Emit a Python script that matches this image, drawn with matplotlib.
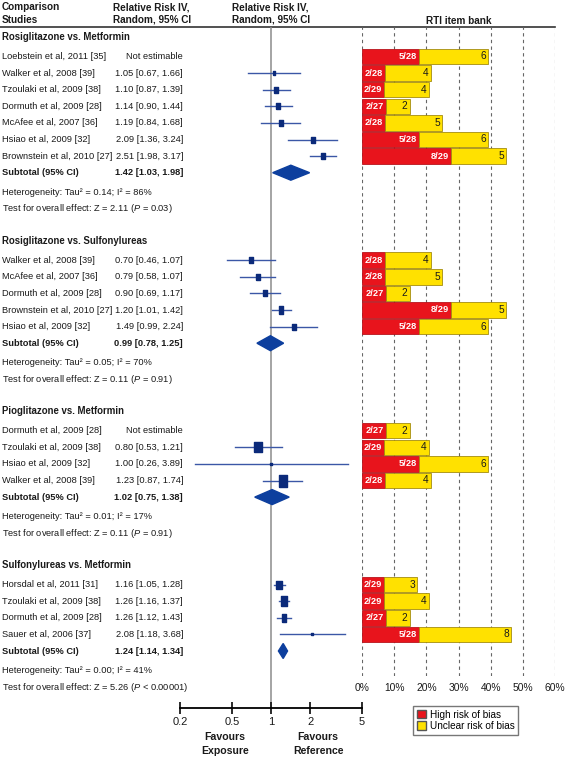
import matplotlib.pyplot as plt
import numpy as np
from matplotlib.patches import Polygon, Patch
from matplotlib.path import Path

plt.rcParams['font.family'] = ['Liberation Sans', 'DejaVu Sans']
plt.rcParams['mathtext.fontset'] = 'custom'
plt.rcParams['mathtext.rm'] = 'Liberation Sans'
plt.rcParams['mathtext.it'] = 'Liberation Sans:italic'

# ---- data ----
sec_titles = ['Rosiglitazone vs. Metformin', 'Rosiglitazone vs. Sulfonylureas',
              'Pioglitazone vs. Metformin', 'Sulfonylureas vs. Metformin']

s1_studies = ['Loebstein et al, 2011 [35]', 'Walker et al, 2008 [39]', 'Tzoulaki et al, 2009 [38]',
              'Dormuth et al, 2009 [28]', 'McAfee et al, 2007 [36]', 'Hsiao et al, 2009 [32]',
              'Brownstein et al, 2010 [27]']
s1_rr = [np.nan, 1.05, 1.10, 1.14, 1.19, 2.09, 2.51]
s1_lo = [np.nan, 0.67, 0.87, 0.90, 0.84, 1.36, 1.98]
s1_hi = [np.nan, 1.66, 1.39, 1.44, 1.68, 3.24, 3.17]
s1_weight = [0, 8, 13, 13, 11, 10, 13]
s1_high = [5, 2, 2, 2, 2, 5, 8]
s1_items = [28, 28, 29, 27, 28, 28, 29]
s1_unclear = [6, 4, 4, 2, 5, 6, 5]
s1_total = [1.42, 1.03, 1.98]
s1_tau, s1_i2, s1_z, s1_p = '0.14', '86%', '2.11', '= 0.03'

s2_studies = ['Walker et al, 2008 [39]', 'McAfee et al, 2007 [36]', 'Dormuth et al, 2009 [28]',
              'Brownstein et al, 2010 [27]', 'Hsiao et al, 2009 [32]']
s2_rr = [0.70, 0.79, 0.90, 1.20, 1.49]
s2_lo = [0.46, 0.58, 0.69, 1.01, 0.99]
s2_hi = [1.07, 1.07, 1.17, 1.42, 2.24]
s2_weight = [11, 17, 17, 23, 10]
s2_high = [2, 2, 2, 8, 5]
s2_items = [28, 28, 27, 29, 28]
s2_unclear = [4, 5, 2, 5, 6]
s2_total = [0.99, 0.78, 1.25]
s2_tau, s2_i2, s2_z, s2_p = '0.05', '70%', '0.11', '= 0.91'

s3_studies = ['Dormuth et al, 2009 [28]', 'Tzoulaki et al, 2009 [38]', 'Hsiao et al, 2009 [32]',
              'Walker et al, 2008 [39]']
s3_rr = [np.nan, 0.80, 1.00, 1.23]
s3_lo = [np.nan, 0.53, 0.26, 0.87]
s3_hi = [np.nan, 1.21, 3.89, 1.74]
s3_weight = [0, 47, 2, 56]
s3_high = [2, 2, 5, 2]
s3_items = [27, 29, 28, 28]
s3_unclear = [2, 4, 6, 4]
s3_total = [1.02, 0.75, 1.38]
s3_tau, s3_i2, s3_z, s3_p = '0.01', '17%', '0.11', '= 0.91'

s4_studies = ['Horsdal et al, 2011 [31]', 'Tzoulaki et al, 2009 [38]', 'Dormuth et al, 2009 [28]',
              'Sauer et al, 2006 [37]']
s4_rr = [1.16, 1.26, 1.26, 2.08]
s4_lo = [1.05, 1.16, 1.12, 1.18]
s4_hi = [1.28, 1.37, 1.43, 3.68]
s4_weight = [27, 32, 21, 2]
s4_high = [2, 2, 2, 5]
s4_items = [29, 29, 27, 28]
s4_unclear = [3, 4, 2, 8]
s4_total = [1.24, 1.14, 1.34]
s4_tau, s4_i2, s4_z, s4_p = '0.00', '41%', '5.26', '< 0.00001'

sections = [
    dict(studies=s1_studies, rr=s1_rr, lo=s1_lo, hi=s1_hi, w=s1_weight, high=s1_high,
         items=s1_items, unclear=s1_unclear, total=s1_total, tau=s1_tau, i2=s1_i2, z=s1_z, p=s1_p),
    dict(studies=s2_studies, rr=s2_rr, lo=s2_lo, hi=s2_hi, w=s2_weight, high=s2_high,
         items=s2_items, unclear=s2_unclear, total=s2_total, tau=s2_tau, i2=s2_i2, z=s2_z, p=s2_p),
    dict(studies=s3_studies, rr=s3_rr, lo=s3_lo, hi=s3_hi, w=s3_weight, high=s3_high,
         items=s3_items, unclear=s3_unclear, total=s3_total, tau=s3_tau, i2=s3_i2, z=s3_z, p=s3_p),
    dict(studies=s4_studies, rr=s4_rr, lo=s4_lo, hi=s4_hi, w=s4_weight, high=s4_high,
         items=s4_items, unclear=s4_unclear, total=s4_total, tau=s4_tau, i2=s4_i2, z=s4_z, p=s4_p),
]

rr_ticks = [0.2, 0.5, 1, 2, 5]
pct_ticks = [0, 10, 20, 30, 40, 50, 60]

# ---- layout (pixels) ----
W, H = 567, 758
fig = plt.figure(figsize=(W / 100, H / 100), dpi=100)

def box(x0, y0, x1, y1):
    return [x0 / W, 1 - y1 / H, (x1 - x0) / W, (y1 - y0) / H]

ax_t = fig.add_axes([0, 0, 1, 1])
ax_t.set_xlim(0, W)
ax_t.set_ylim(H, 0)
ax_t.axis('off')

ax_f = fig.add_axes(box(180, 27, 362, 708))
ax_f.patch.set_alpha(0)
ax_f.set_xscale('log')
ax_f.set_xlim(0.2, 5)
ax_f.set_ylim(708, 27)

ax_b = fig.add_axes(box(362, 27, 555, 676))
ax_b.patch.set_alpha(0)
ax_b.set_xlim(0, 60)
ax_b.set_ylim(676, 27)

TXT = '#1a1a1a'
SQ = '#0b2a7a'
CI = '#3b57a6'
DIA = '#0d3f9e'
RED = '#e8141c'
YEL = '#ffe100'
fs = 6.7
hfs = 7.2

# header
ax_t.text(2, 7, 'Comparison', fontsize=hfs, fontweight='bold', va='center', color=TXT)
ax_t.text(2, 20, 'Studies', fontsize=hfs, fontweight='bold', va='center', color=TXT)
for x0 in (113, 232):
    ax_t.text(x0, 7, 'Relative Risk IV,', fontsize=hfs, fontweight='bold', va='center', color=TXT)
    ax_t.text(x0, 20, 'Random, 95% CI', fontsize=hfs, fontweight='bold', va='center', color=TXT)
ax_t.plot([0, 555], [27, 27], color='#333333', lw=1.2)

rect = Path([(-0.65, -1), (0.65, -1), (0.65, 1), (-0.65, 1), (-0.65, -1)])

y = 37
for title, s in zip(sec_titles, sections):
    ax_t.text(2, y, title, fontsize=fs + 0.2, fontweight='bold', va='center', color=TXT)
    n = len(s['studies'])
    ys = y + 19.5 + 16.6 * np.arange(n)
    for i in range(n):
        yi = ys[i]
        ax_t.text(2, yi, s['studies'][i], fontsize=fs, va='center', color=TXT)
        if np.isnan(s['rr'][i]):
            est = 'Not estimable'
        else:
            est = f"{s['rr'][i]:.2f} [{s['lo'][i]:.2f}, {s['hi'][i]:.2f}]"
            ax_f.plot([s['lo'][i], s['hi'][i]], [yi, yi], color=CI, lw=1.0, zorder=3)
            h = 1.6 * np.sqrt(s['w'][i]) * 0.72
            ax_f.plot(s['rr'][i], yi, marker=rect, ms=h, color=SQ, mec=SQ, zorder=4)
        ax_t.text(183, yi, est, fontsize=fs, va='center', ha='right', color=TXT)
        # risk of bias bars
        hi_pct = 100 * s['high'][i] / s['items'][i]
        un_pct = 100 * s['unclear'][i] / s['items'][i]
        ax_b.barh(yi, hi_pct, height=15.5, color=RED, edgecolor='#b8141c', lw=0.6, zorder=3)
        ax_b.barh(yi, un_pct, left=hi_pct, height=15.5, color=YEL, edgecolor='#a38c10', lw=0.6, zorder=3)
        ax_b.text(hi_pct - 0.7, yi, f"{s['high'][i]}/{s['items'][i]}", fontsize=fs, color='white',
                  fontweight='bold', ha='right', va='center', zorder=4)
        ax_b.text(hi_pct + un_pct - 0.7, yi, str(s['unclear'][i]), fontsize=fs + 0.6, color=TXT,
                  ha='right', va='center', zorder=4)
    sub_y = ys[-1] + 16.6
    est, lo, hi = s['total']
    ax_t.text(2, sub_y, 'Subtotal (95% CI)', fontsize=fs, fontweight='bold', va='center', color=TXT)
    ax_t.text(183, sub_y, f"{est:.2f} [{lo:.2f}, {hi:.2f}]", fontsize=fs, fontweight='bold',
              va='center', ha='right', color=TXT)
    ax_f.add_patch(Polygon([(lo, sub_y), (est, sub_y - 7.5), (hi, sub_y), (est, sub_y + 7.5)],
                           closed=True, color=DIA, zorder=4))
    het_y = sub_y + 19.5
    test_y = het_y + 16.5
    ax_t.text(2, het_y, f"Heterogeneity: Tau² = {s['tau']}; I² = {s['i2']}", fontsize=fs,
              va='center', color=TXT)
    ax_t.text(2, test_y, f"Test for overall effect: Z = {s['z']} ($\\mathit{{P}}$ {s['p']})",
              fontsize=fs, va='center', color=TXT)
    y = test_y + 32

# forest axis
ax_f.axvline(1, color='#8c8c8c', lw=1.1, zorder=1)
for sp in ('top', 'left', 'right'):
    ax_f.spines[sp].set_visible(False)
ax_f.spines['bottom'].set_linewidth(1.3)
ax_f.set_xticks(rr_ticks)
ax_f.set_xticklabels([str(t) for t in rr_ticks])
ax_f.minorticks_off()
ax_f.set_yticks([])
ax_f.tick_params(axis='x', direction='inout', length=9, width=1.3, labelsize=8, pad=2, colors=TXT)
for xx, lab in ((225, 'Exposure'), (318, 'Reference')):
    ax_t.text(xx, 737, 'Favours', fontsize=7.6, fontweight='bold', ha='center', va='center', color=TXT)
    ax_t.text(xx, 751, lab, fontsize=7.6, fontweight='bold', ha='center', va='center', color=TXT)

# bias axis
for sp in ax_b.spines.values():
    sp.set_visible(False)
ax_b.set_xticks(pct_ticks)
ax_b.set_xticklabels([f'{t}%' for t in pct_ticks])
ax_b.set_yticks([])
ax_b.tick_params(axis='x', length=0, labelsize=7.4, pad=5, colors=TXT)
ax_b.grid(axis='x', linestyle=(0, (3, 3)), color='#666666', lw=0.8, zorder=0)
ax_b.set_title('RTI item bank', fontsize=hfs, fontweight='bold', pad=2, color=TXT)

handles = [Patch(facecolor=RED, edgecolor='#555555', label='High risk of bias'),
           Patch(facecolor=YEL, edgecolor='#555555', label='Unclear risk of bias')]
fig.legend(handles=handles, loc='upper left', bbox_to_anchor=(413 / W, 1 - 706 / H),
           fontsize=7.2, frameon=True, fancybox=False, edgecolor='#555555',
           handlelength=0.9, handleheight=0.9, handletextpad=0.4, labelspacing=0.15,
           borderpad=0.35, borderaxespad=0)

fig.savefig('out.png', dpi=100)
